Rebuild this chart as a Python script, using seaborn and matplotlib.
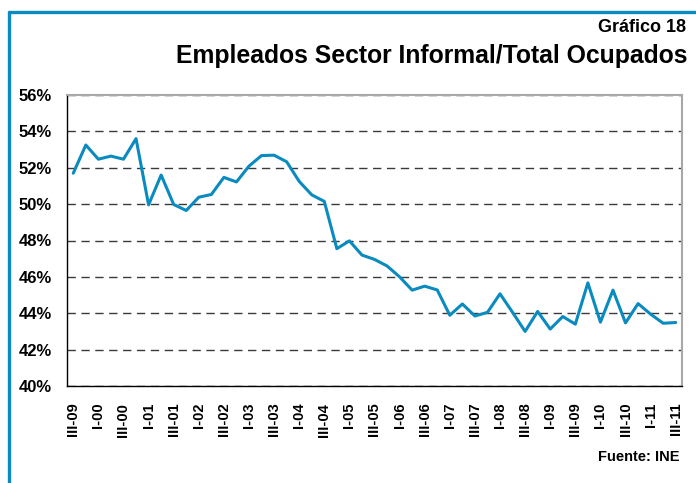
import pandas as pd
import matplotlib
matplotlib.use('Agg')
import matplotlib.pyplot as plt
import seaborn as sns
from matplotlib.lines import Line2D
from matplotlib.ticker import FixedLocator, FuncFormatter

# Data (percent of total employed)
tick_labels = ["III-09", "I-00", "III-00", "I-01", "III-01", "I-02", "III-02", "I-03",
               "III-03", "I-04", "III-04", "I-05", "III-05", "I-06", "III-06", "I-07",
               "III-07", "I-08", "III-08", "I-09", "III-09", "I-10", "III-10", "I-11",
               "III-11"]
informal_share = [51.7, 53.25, 52.47, 52.64, 52.47, 53.6, 49.96, 51.6, 49.98, 49.65,
                  50.38, 50.53, 51.47, 51.22, 52.09, 52.67, 52.69, 52.33, 51.25, 50.51,
                  50.15, 47.55, 47.98, 47.2, 46.96, 46.6, 46.0, 45.27, 45.49, 45.28,
                  43.89, 44.51, 43.85, 44.05, 45.07, 44.05, 43.0, 44.1, 43.13, 43.82,
                  43.4, 45.67, 43.51, 45.27, 43.47, 44.53, 43.95, 43.45, 43.49]
y_ticks = [40, 42, 44, 46, 48, 50, 52, 54, 56]

df = pd.DataFrame({'trimestre': range(len(informal_share)), 'valor': informal_share})

sns.set_style("white")
plt.rcParams['font.family'] = ['Liberation Sans', 'DejaVu Sans']
plt.rcParams['font.weight'] = 'bold'
plt.rcParams['text.color'] = 'black'
plt.rcParams['xtick.color'] = 'black'
plt.rcParams['ytick.color'] = 'black'

fig = plt.figure(figsize=(6.96, 4.83), dpi=100)
ax = fig.add_axes([67 / 696, 1 - 386 / 483, 615 / 696, 291 / 483])

sns.lineplot(data=df, x='trimestre', y='valor', ax=ax, color='#0a8bbf', linewidth=2.2)

ax.set_xlim(-0.5, len(informal_share) - 0.5)
ax.set_ylim(40, 56)
ax.set_yticks(y_ticks)
ax.yaxis.set_major_formatter(FuncFormatter(lambda v, p: f"{v:.0f}%"))
ax.yaxis.grid(True, linestyle=(0, (6, 4)), color='#3a3a3a', linewidth=1.0)
ax.set_axisbelow(True)

# category ticks between points, labels every two quarters
ax.xaxis.set_major_locator(FixedLocator(list(range(0, len(informal_share), 2))))
ax.set_xticklabels(tick_labels, rotation=90, fontsize=10.5, fontweight='bold')
ax.xaxis.set_minor_locator(FixedLocator([i - 0.5 for i in range(len(informal_share) + 1)]))
ax.tick_params(axis='x', which='major', length=0, pad=12)
ax.tick_params(axis='x', which='minor', length=5, width=1, color='black', direction='out')
ax.tick_params(axis='y', length=5, width=1, color='black', direction='out', pad=6,
               labelsize=12)
for lab in ax.get_yticklabels():
    lab.set_fontweight('bold')

ax.set_xlabel('')
ax.set_ylabel('')
for side in ['left', 'bottom']:
    ax.spines[side].set_color('black')
    ax.spines[side].set_linewidth(1.0)
for side in ['top', 'right']:
    ax.spines[side].set_color('#a8a8a8')
    ax.spines[side].set_linewidth(1.5)

# blue frame on top and left
fig.add_artist(Line2D([9 / 696, 1.0], [1 - 12 / 483, 1 - 12 / 483], color='#0a8bbf',
                      linewidth=2.4, transform=fig.transFigure))
fig.add_artist(Line2D([9 / 696, 9 / 696], [0.0, 1 - 12 / 483], color='#0a8bbf',
                      linewidth=2.4, transform=fig.transFigure))

fig.text(686 / 696, 1 - 27 / 483, 'Gráfico 18', ha='right', va='center',
         fontsize=13, fontweight='bold')
fig.text(687 / 696, 1 - 56 / 483, 'Empleados Sector Informal/Total Ocupados', ha='right',
         va='center', fontsize=17.8, fontweight='bold')
fig.text(679 / 696, 1 - 457 / 483, 'Fuente: INE', ha='right', va='center',
         fontsize=10.5, fontweight='bold')

fig.savefig('out.png', dpi=100)
